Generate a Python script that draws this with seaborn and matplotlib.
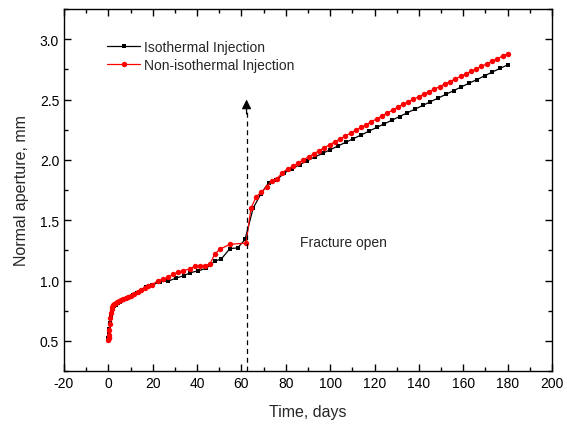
import numpy as np
import pandas as pd
import matplotlib
matplotlib.use("Agg")
import matplotlib.pyplot as plt
from matplotlib.ticker import MultipleLocator
import seaborn as sns

# ---------------- data ----------------
iso_t_early = [0, 0.1, 0.3, 0.5, 0.8, 1.2, 1.6, 2.0, 2.6, 3.3,
               4.2, 5.3, 6.5, 8.0, 9.6, 11.3, 13.0, 15, 17, 19.5,
               23.3, 27, 30.5, 34, 37, 40.5, 44, 48, 51, 54.8,
               58.3, 61.6]
iso_y_early = [0.52, 0.53, 0.56, 0.60, 0.65, 0.70, 0.74, 0.77, 0.79, 0.80,
               0.81, 0.82, 0.835, 0.85, 0.865, 0.88, 0.90, 0.925, 0.945, 0.96,
               0.99, 0.995, 1.02, 1.04, 1.065, 1.08, 1.10, 1.16, 1.18, 1.265,
               1.27, 1.34]
iso_t_late = [65.3, 68.8, 72.3, 75.7, 79.2, 82.7, 86.2, 89.6, 93.1, 96.6,
              100.1, 103.5, 107.0, 110.5, 114.0, 117.4, 120.9, 124.4, 127.9, 131.3,
              134.8, 138.3, 141.8, 145.2, 148.7, 152.2, 155.7, 159.1, 162.6, 166.1,
              169.6, 173.0, 176.5, 180.0]
iso_y_late = [1.60, 1.72, 1.81, 1.83, 1.89, 1.925, 1.960, 1.992, 2.024, 2.054,
              2.084, 2.115, 2.145, 2.176, 2.206, 2.237, 2.268, 2.298, 2.329, 2.359,
              2.390, 2.421, 2.451, 2.482, 2.512, 2.543, 2.574, 2.604, 2.635, 2.665,
              2.696, 2.727, 2.757, 2.787]

non_t_early = [0, 0.1, 0.2, 0.35, 0.5, 0.7, 0.9, 1.2, 1.5, 1.8,
               2.2, 2.7, 3.3, 4.0, 4.8, 5.7, 6.7, 7.8, 9.0, 10.3,
               11.7, 13.2, 14.7, 16.3, 18.0, 19.7, 22.5, 24.8, 27.0, 29.3,
               31.5, 33.8, 36.8, 39.0, 41.3, 43.6, 45.8, 48.0, 50.3, 54.8,
               62.1]
non_y_early = [0.51, 0.52, 0.53, 0.55, 0.59, 0.64, 0.69, 0.73, 0.76, 0.78,
               0.795, 0.805, 0.815, 0.82, 0.83, 0.835, 0.845, 0.855, 0.865, 0.875,
               0.89, 0.905, 0.92, 0.94, 0.955, 0.965, 1.00, 1.013, 1.027, 1.054,
               1.068, 1.082, 1.096, 1.118, 1.124, 1.124, 1.137, 1.22, 1.26, 1.30,
               1.31]
non_t_late = [64.3, 66.7, 69.0, 71.4, 73.7, 76.1, 78.5, 80.8, 83.2, 85.5,
              87.9, 90.3, 92.6, 95.0, 97.4, 99.7, 102.1, 104.5, 106.8, 109.2,
              111.5, 113.9, 116.3, 118.6, 121.0, 123.4, 125.7, 128.1, 130.4, 132.8,
              135.2, 137.5, 139.9, 142.3, 144.6, 147.0, 149.3, 151.7, 154.1, 156.4,
              158.8, 161.2, 163.5, 165.9, 168.2, 170.6, 173.0, 175.3, 177.7, 180.0]
non_y_late = [1.600, 1.695, 1.735, 1.772, 1.827, 1.845, 1.895, 1.924, 1.945, 1.972,
              2.000, 2.025, 2.050, 2.075, 2.100, 2.125, 2.149, 2.173, 2.197, 2.221,
              2.245, 2.268, 2.292, 2.316, 2.340, 2.364, 2.388, 2.412, 2.436, 2.460,
              2.481, 2.502, 2.523, 2.544, 2.565, 2.586, 2.607, 2.628, 2.649, 2.670,
              2.691, 2.712, 2.733, 2.754, 2.775, 2.796, 2.817, 2.838, 2.859, 2.880]

open_day = 62.3
arrow_tip = 2.5
label_iso = "Isothermal Injection"
label_non = "Non-isothermal Injection"
annot_text = "Fracture open"

iso = pd.DataFrame({"t": iso_t_early + iso_t_late, "y": iso_y_early + iso_y_late})
non = pd.DataFrame({"t": non_t_early + non_t_late, "y": non_y_early + non_y_late})

# ---------------- style ----------------
sns.set_theme(style="ticks")
plt.rcParams["font.family"] = ["Liberation Sans", "DejaVu Sans"]
plt.rcParams["axes.unicode_minus"] = False
plt.rcParams["xtick.direction"] = "in"
plt.rcParams["ytick.direction"] = "in"

fig = plt.figure(figsize=(5.67, 4.27), dpi=100)
ax = fig.add_axes([64 / 567, 55 / 427, 488 / 567, 362 / 427])

sns.lineplot(data=iso, x="t", y="y", ax=ax, color="black", marker="s",
             markersize=3.2, markeredgewidth=0, linewidth=0.9,
             estimator=None, sort=False, label=label_iso)
sns.lineplot(data=non, x="t", y="y", ax=ax, color="#ff0000", marker="o",
             markersize=3.9, markeredgewidth=0, linewidth=0.9,
             estimator=None, sort=False, label=label_non)

# dashed line with arrow head
ax.plot([open_day, open_day], [0.25, arrow_tip - 0.1], color="black",
        linestyle=(0, (4, 3)), linewidth=0.9)
ax.annotate("", xy=(open_day, arrow_tip), xytext=(open_day, arrow_tip - 0.12),
            arrowprops=dict(arrowstyle="-|>", color="black", lw=0.9,
                            mutation_scale=14, shrinkA=0, shrinkB=0))

ax.text(86.5, 1.32, annot_text, fontsize=10, ha="left", va="center")

ax.set_xlim(-20, 200)
ax.set_ylim(0.25, 3.25)
ax.xaxis.set_major_locator(MultipleLocator(20))
ax.xaxis.set_minor_locator(MultipleLocator(10))
ax.yaxis.set_major_locator(MultipleLocator(0.5))
ax.yaxis.set_minor_locator(MultipleLocator(0.25))
ax.yaxis.set_major_formatter(matplotlib.ticker.FormatStrFormatter("%.1f"))
ax.tick_params(which="both", top=True, right=True, direction="in",
               width=1.0, labelsize=10, colors="black")
ax.tick_params(which="major", length=5)
ax.tick_params(which="minor", length=3)
for s in ax.spines.values():
    s.set_linewidth(1.0)
    s.set_color("black")

ax.set_xlabel("Time, days", fontsize=11.5, labelpad=10)
ax.set_ylabel("Normal aperture, mm", fontsize=11.5, labelpad=8)

leg = ax.legend(loc="upper left", bbox_to_anchor=(0.088, 0.914), frameon=False,
                fontsize=10, handlelength=2.4, handletextpad=0.3,
                borderpad=0, borderaxespad=0, labelspacing=0.25)

fig.savefig("out.png", dpi=100)
